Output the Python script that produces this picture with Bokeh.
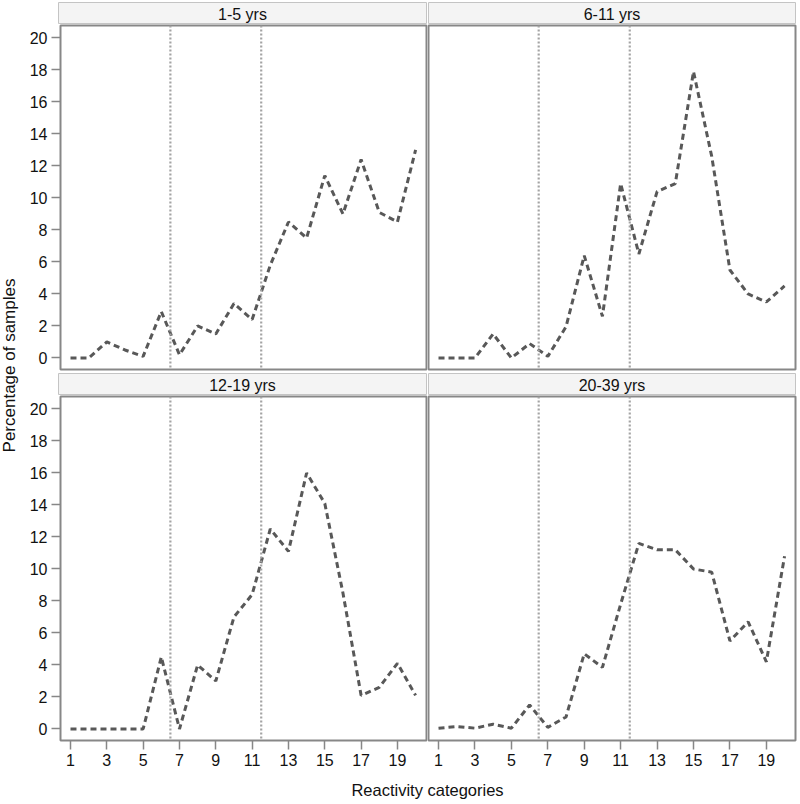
import math
from bokeh.plotting import figure
from bokeh.layouts import row, column
from bokeh.models import Range1d, FixedTicker, Span, ColumnDataSource
from bokeh.core.properties import value
from bokeh.embed import file_html
from bokeh.resources import INLINE

# ---- data ----
categories = [1, 2, 3, 4, 5, 6, 7, 8, 9, 10, 11, 12, 13, 14, 15, 16, 17, 18, 19, 20]
yrs_1_5 = [0, 0, 1.0, 0.5, 0.1, 2.9, 0.2, 2.0, 1.5, 3.4, 2.4, 5.8, 8.5, 7.5, 11.4, 9.0, 12.4, 9.1, 8.5, 13.0]
yrs_6_11 = [0, 0, 0, 1.5, 0, 0.9, 0.1, 1.95, 6.4, 2.6, 10.9, 6.5, 10.4, 10.9, 17.9, 12.6, 5.5, 4.0, 3.5, 4.5]
yrs_12_19 = [0, 0, 0, 0, 0, 4.5, 0, 4.0, 3.0, 7.0, 8.4, 12.5, 11.1, 16.0, 14.1, 8.5, 2.1, 2.6, 4.1, 2.1]
yrs_20_39 = [0.05, 0.15, 0.05, 0.3, 0.05, 1.5, 0.1, 0.75, 4.7, 3.85, 7.8, 11.6, 11.2, 11.2, 10.0, 9.8, 5.5, 6.7, 4.2, 10.8]
panel_labels = ["1-5 yrs", "6-11 yrs", "12-19 yrs", "20-39 yrs"]
cutoffs = [6.5, 11.5]
x_ticks = [1, 3, 5, 7, 9, 11, 13, 15, 17, 19]
y_ticks = [0, 2, 4, 6, 8, 10, 12, 14, 16, 18, 20]
x_title = "Reactivity categories"
y_title = "Percentage of samples"

FONT = value("Liberation Sans")
FRAME_W = 368
FRAME_H = 344
LEFT_B = 32
YLAB_W = 26
OUTLINE = "#878787"
TEXT_C = "#111111"


def header(label, left_col, top_b, bot_b):
    lb, rb = (LEFT_B, 1) if left_col else (1, 2)
    fw = FRAME_W if left_col else FRAME_W - 1
    h = figure(width=lb + fw + rb, height=top_b + 21 + bot_b, x_range=Range1d(0, 1), y_range=Range1d(0, 1),
               x_axis_location=None, y_axis_location=None, toolbar_location=None,
               output_backend="svg", min_border_left=lb, min_border_right=rb,
               min_border_top=top_b, min_border_bottom=bot_b)
    h.grid.visible = False
    h.background_fill_color = "#f4f4f4"
    h.outline_line_color = "#c4c4c4"
    h.outline_line_width = 1
    h.text(x=[0.5], y=[0.45], text=[label], text_align="center", text_baseline="middle",
           text_font=FONT, text_font_size="16px", text_color=TEXT_C)
    return h


def panel(series, left_col, bottom_row):
    lb, rb = (LEFT_B, 1) if left_col else (1, 2)
    fw = FRAME_W if left_col else FRAME_W - 1
    bb = 36 if bottom_row else 3
    p = figure(width=lb + fw + rb, height=1 + FRAME_H + bb,
               x_range=Range1d(0.45, 20.6), y_range=Range1d(-0.72, 20.78),
               x_axis_location="below" if bottom_row else None,
               y_axis_location="left" if left_col else None,
               toolbar_location=None, output_backend="svg",
               min_border_left=lb, min_border_right=rb, min_border_top=1, min_border_bottom=bb)
    p.grid.visible = False
    p.outline_line_color = OUTLINE
    p.outline_line_width = 2
    p.background_fill_color = "white"
    p.border_fill_color = "white"
    for ax in p.axis:
        ax.axis_line_color = None
        ax.major_tick_in = 0
        ax.major_tick_out = 9
        ax.major_tick_line_color = OUTLINE
        ax.major_tick_line_width = 1.5
        ax.minor_tick_line_color = None
        ax.major_label_text_font = "Liberation Sans"
        ax.major_label_text_font_size = "16px"
        ax.major_label_text_color = TEXT_C
        ax.major_label_standoff = 4
    if bottom_row:
        p.xaxis.ticker = FixedTicker(ticks=x_ticks)
    if left_col:
        p.yaxis.ticker = FixedTicker(ticks=y_ticks)
    for c in cutoffs:
        p.add_layout(Span(location=c, dimension="height", line_color="#a4a4a4",
                          line_width=2.2, line_dash="2 2"))
    src = ColumnDataSource(dict(x=categories, y=series))
    p.line(x="x", y="y", source=src, line_color="#585858", line_width=3, line_dash="6 4")
    return p


h1 = header(panel_labels[0], True, 2, 1)
h2 = header(panel_labels[1], False, 2, 1)
h3 = header(panel_labels[2], True, 1, 1)
h4 = header(panel_labels[3], False, 1, 1)
p1 = panel(yrs_1_5, True, False)
p2 = panel(yrs_6_11, False, False)
p3 = panel(yrs_12_19, True, True)
p4 = panel(yrs_20_39, False, True)

grid = column(row(h1, h2), row(p1, p2), row(h3, h4), row(p3, p4))
grid_h = 24 + (FRAME_H + 4) + 23 + (FRAME_H + 37)
grid_w = (LEFT_B + FRAME_W + 1) + (FRAME_W + 2)

ylab = figure(width=YLAB_W, height=grid_h, x_range=Range1d(0, YLAB_W), y_range=Range1d(grid_h, 0),
              x_axis_location=None, y_axis_location=None, toolbar_location=None,
              output_backend="svg", min_border=0)
ylab.grid.visible = False
ylab.outline_line_color = None
ylab.text(x=[9], y=[365], text=[y_title], angle=math.pi / 2, text_align="center",
          text_baseline="middle", text_font=FONT, text_font_size="17px", text_color=TEXT_C)

total_w = YLAB_W + grid_w
xlab = figure(width=total_w, height=24, x_range=Range1d(0, total_w), y_range=Range1d(24, 0),
              x_axis_location=None, y_axis_location=None, toolbar_location=None,
              output_backend="svg", min_border=0)
xlab.grid.visible = False
xlab.outline_line_color = None
xlab.text(x=[427], y=[13], text=[x_title], text_align="center", text_baseline="middle",
          text_font=FONT, text_font_size="16.5px", text_color=TEXT_C)

layout = column(row(ylab, grid), xlab)

open("out.html", "w").write(file_html(layout, INLINE))
